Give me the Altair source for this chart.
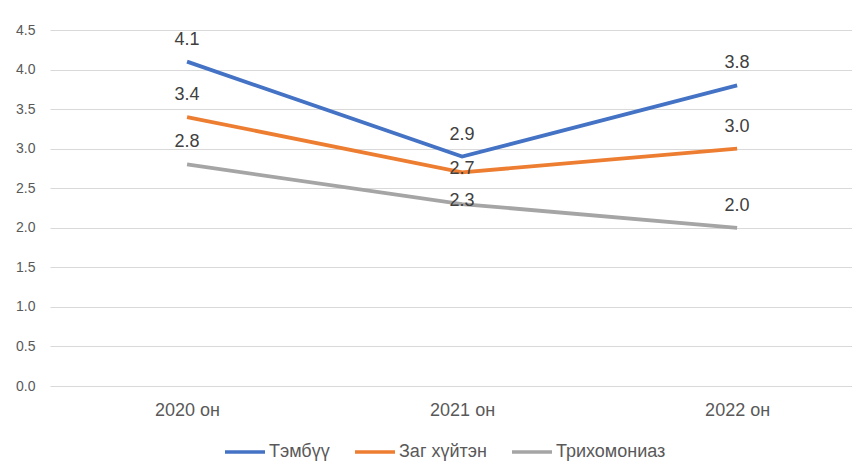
import altair as alt
import pandas as pd

years = ["2020 он", "2021 он", "2022 он"]
series_names = ["Тэмбүү", "Заг хүйтэн", "Трихомониаз"]
tembuu = [4.1, 2.9, 3.8]
zag = [3.4, 2.7, 3.0]
trikh = [2.8, 2.3, 2.0]
colors = ["#4472C4", "#ED7D31", "#A5A5A5"]

rows = []
for name, vals in zip(series_names, [tembuu, zag, trikh]):
    for i, (y, v) in enumerate(zip(years, vals)):
        rows.append({"year": y, "series": name, "value": v, "order": i})
df = pd.DataFrame(rows)

FONT = "Liberation Sans"

x = alt.X("year:N", sort=years,
          scale=alt.Scale(type="point", padding=0.458, align=0.544),
          axis=alt.Axis(title=None, labelAngle=0, ticks=False, domain=False,
                        labelFontSize=18, labelColor="#595959", labelPadding=15,
                        labelFont=FONT, grid=False))
y = alt.Y("value:Q",
          scale=alt.Scale(domain=[0, 4.5], nice=False, zero=True),
          axis=alt.Axis(title=None, values=[0, 0.5, 1, 1.5, 2, 2.5, 3, 3.5, 4, 4.5],
                        format=".1f", ticks=False, domain=False,
                        labelFontSize=14, labelColor="#595959", labelPadding=15,
                        labelFont=FONT, gridColor="#D9D9D9", gridWidth=1.2,
                        minExtent=42, maxExtent=42))
color = alt.Color("series:N", sort=series_names,
                  scale=alt.Scale(domain=series_names, range=colors),
                  legend=alt.Legend(title=None, orient="none", direction="horizontal",
                                    legendX=173, legendY=400,
                                    symbolType="stroke", symbolSize=1600,
                                    symbolStrokeWidth=3.5, labelFontSize=18,
                                    labelColor="#595959", labelFont=FONT,
                                    columnPadding=18, labelOffset=2))

base = alt.Chart(df)

lines = base.mark_line(strokeWidth=3.8).encode(x=x, y=y, color=color,
                                               order="order:Q")

cond_down = "datum.year == '2021 он' && datum.series != 'Тэмбүү'"

labels_up = base.transform_filter("!(" + cond_down + ")").mark_text(
    baseline="alphabetic", dy=-17, fontSize=18, color="#404040", font=FONT
).encode(x=x, y=y, text=alt.Text("value:Q", format=".1f"))

labels_down = base.transform_filter(cond_down).mark_text(
    baseline="alphabetic", dy=2, fontSize=18, color="#404040", font=FONT
).encode(x=x, y=y, text=alt.Text("value:Q", format=".1f"))

chart = (lines + labels_up + labels_down).properties(
    width=802, height=356,
    padding={"left": 0, "top": 15, "right": 0, "bottom": 0}
).configure(background="white").configure_view(stroke=None)

chart.save("out.html", embed_options={"renderer": "svg", "actions": False})
